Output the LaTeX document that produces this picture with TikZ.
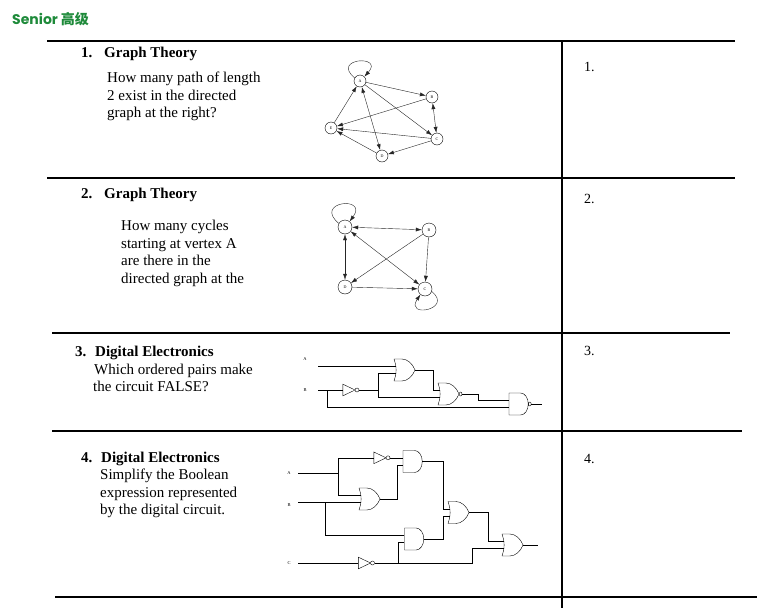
\documentclass[tikz,border=0pt]{standalone}
\usepackage{fontspec}
\setmainfont{Liberation Serif}
\newfontfamily\titlefont{Poppins}
\newfontfamily\cjk{Noto Sans CJK SC}
\usetikzlibrary{arrows.meta,shapes.gates.logic.US}
\definecolor{seniorgreen}{RGB}{30,138,58}
\tikzset{
  qhead/.style={anchor=base west,inner sep=0pt,font=\fontsize{15}{18}\selectfont\bfseries},
  qtext/.style={anchor=base west,inner sep=0pt,font=\fontsize{15}{18}\selectfont},
  qnum/.style={anchor=base west,inner sep=0pt,font=\fontsize{14}{16}\selectfont},
  vertex/.style={circle,draw,thin,minimum size=12pt,inner sep=0pt,font=\fontsize{4}{4}\selectfont},
  arc/.style={-{Latex[length=6pt,width=4pt]},thin,black!85},
  arcs/.style={{Latex[length=6pt,width=4pt]}-{Latex[length=6pt,width=4pt]},thin,black!85},
  gate/.style={draw,thin,inner sep=0pt,logic gate inputs=nn,minimum height=22pt,xscale=0.7},
  inv/.style={not gate US,draw,thin,inner sep=0pt,minimum width=10pt,minimum height=10pt},
  pin/.style={inner sep=0pt,font=\fontsize{4.5}{5}\selectfont}
}
\begin{document}
\begin{tikzpicture}[x=1pt,y=-1pt]
\useasboundingbox (0,0) rectangle (777,608);
\node[anchor=base west,inner sep=0pt,text=seniorgreen,font=\fontsize{14}{16}\selectfont] (title) at (12,24) {\titlefont\bfseries Senior \cjk\bfseries 高级};
% table
\draw[line width=1.7pt] (47,41) -- (735,41);
\draw[line width=1.7pt] (47,178) -- (735,178);
\draw[line width=1.2pt] (52,333) -- (730,333);
\draw[line width=1.7pt] (52,431) -- (742,431);
\draw[line width=1.5pt] (55,597) -- (757,597);
\draw[line width=1.7pt] (562,41) -- (562,608);
\node[qnum] (n1) at (584,71) {1.};
\node[qnum] (n2) at (584,203) {2.};
\node[qnum] (n3) at (584,355) {3.};
\node[qnum] (n4) at (584,463) {4.};
% question 1
\node[qhead] (q1num) at (81,57) {1.};
\node[qhead] (q1head) at (104,57) {Graph Theory};
\node[qtext] (q1a) at (107,82) {How many path of length};
\node[qtext] (q1b) at (107,100) {2 exist in the directed};
\node[qtext] (q1c) at (107,117) {graph at the right?};
\node[vertex] (g1a) at (360,81) {A};
\node[vertex] (g1b) at (432,97) {B};
\node[vertex] (g1c) at (437,139) {C};
\node[vertex] (g1d) at (382,156) {D};
\node[vertex] (g1e) at (331,128) {E};
\draw[arc] (g1a) -- (g1b);
\draw[arc] (g1a) -- (g1c);
\draw[arcs] (g1a) -- (g1d);
\draw[arc] (g1b) -- (g1e);
\draw[arcs] (g1b) -- (g1c);
\draw[arc] (g1c) -- (g1e);
\draw[arc] (g1c) -- (g1d);
\draw[arc] (g1d) -- (g1e);
\draw[arc] (g1e) -- (g1a);
\draw[arc] (g1a.150) .. controls +(-24,-20) and +(20,-22) .. (g1a.45);
% question 2
\node[qhead] (q2num) at (81,198) {2.};
\node[qhead] (q2head) at (104,198) {Graph Theory};
\node[qtext] (q2a) at (121,230.7) {How many cycles};
\node[qtext] (q2b) at (121,248.3) {starting at vertex A};
\node[qtext] (q2c) at (121,265.7) {are there in the};
\node[qtext] (q2d) at (121,283.3) {directed graph at the};
\node[vertex,minimum size=14pt] (g2a) at (345,227) {A};
\node[vertex,minimum size=14pt] (g2b) at (429,230) {B};
\node[vertex,minimum size=14pt] (g2c) at (425,289) {C};
\node[vertex,minimum size=14pt] (g2d) at (345,287) {D};
\draw[arcs] (g2a) -- (g2b);
\draw[arcs] (g2a) -- (g2c);
\draw[arcs] (g2a) -- (g2d);
\draw[arc] (g2b) -- (g2d);
\draw[arc] (g2b) -- (g2c);
\draw[arc] (g2d) -- (g2c);
\draw[arc] (g2a.150) .. controls +(-26,-22) and +(19,-26) .. (g2a.50);
\draw[arc] (g2c.-20) .. controls +(22,18) and +(-16,24) .. (g2c.-130);
% question 3
\node[qhead] (q3num) at (75,356) {3.};
\node[qhead] (q3head) at (95,356) {Digital Electronics};
\node[qtext] (q3a) at (94,374) {Which ordered pairs make};
\node[qtext] (q3b) at (93,391) {the circuit FALSE?};
\node[pin] (p3a) at (305,359) {A};
\node[pin] (p3b) at (305,390) {B};
\node[gate,or gate US] (or3a) at (403,370) {};
\node[inv] (not3) at (347,390) {};
\node[gate,nor gate US] (nor3) at (447,394) {};
\node[gate,nand gate US] (nand3) at (518,404) {};
\coordinate (b3) at (not3.input -| 318,0);
\draw (or3a.input 1) -- (or3a.input 1 -| 318,0);
\draw (b3) -- (not3.input);
\draw (or3a.input 2) -- (or3a.input 2 -| 378,0) |- (not3.output);
\draw (nor3.input 2) -- (nor3.input 2 -| 378,0) |- (not3.output);
\draw (nand3.input 2) -- (nand3.input 2 -| 327,0) |- (b3);
\draw (nor3.input 1) -- (nor3.input 1 -| 433,0) |- (or3a.output);
\draw (nand3.input 1) -- (nand3.input 1 -| 478,0) |- (nor3.output);
\draw (nand3.output) -- (nand3.output -| 542,0);
% question 4
\node[qhead] (q4num) at (81,462) {4.};
\node[qhead] (q4head) at (101,462) {Digital Electronics};
\node[qtext] (q4a) at (100,479) {Simplify the Boolean};
\node[qtext] (q4b) at (100,497) {expression represented};
\node[qtext] (q4c) at (100,514) {by the digital circuit.};
\node[pin] (p4a) at (289,473) {A};
\node[pin] (p4b) at (289,505) {B};
\node[pin] (p4c) at (289,563) {C};
\node[gate,and gate US] (and4a) at (412,461.5) {};
\node[inv,minimum width=11pt] (not4a) at (and4a.input 1 -| 378,0) {};
\node[gate,or gate US] (or4a) at (368,499) {};
\node[gate,or gate US] (or4b) at (457,512.5) {};
\node[gate,and gate US] (and4b) at (413.5,539) {};
\node[inv,minimum width=11pt] (not4c) at (362.5,563) {};
\node[gate,or gate US] (or4c) at (511,545) {};
\coordinate (ja) at (338,473);
\draw (ja -| 298,0) -- (ja);
\draw (ja) |- (not4a.input);
\draw (ja) |- (or4a.input 1);
\draw (not4a.output) -- (and4a.input 1);
\draw (or4a.input 2) -- (or4a.input 2 -| 298,0);
\draw (and4b.input 1) -- (and4b.input 1 -| 325,0) |- (or4a.input 2);
\draw (and4a.input 2) -- (and4a.input 2 -| 397,0) |- (or4a.output);
\draw (or4b.input 1) -- (or4b.input 1 -| 443,0) |- (and4a.output);
\draw (or4b.input 2) -- (or4b.input 2 -| 443,0) |- (and4b.output);
\draw (or4c.input 1) -- (or4c.input 1 -| 488,0) |- (or4b.output);
\draw (not4c.input) -- (not4c.input -| 298,0);
\draw (and4b.input 2) -- (and4b.input 2 -| 398,0) |- (not4c.output);
\draw (or4c.input 2) -- (or4c.input 2 -| 472,0) |- (not4c.output);
\draw (or4c.output) -- (or4c.output -| 538,0);
\end{tikzpicture}
\end{document}
